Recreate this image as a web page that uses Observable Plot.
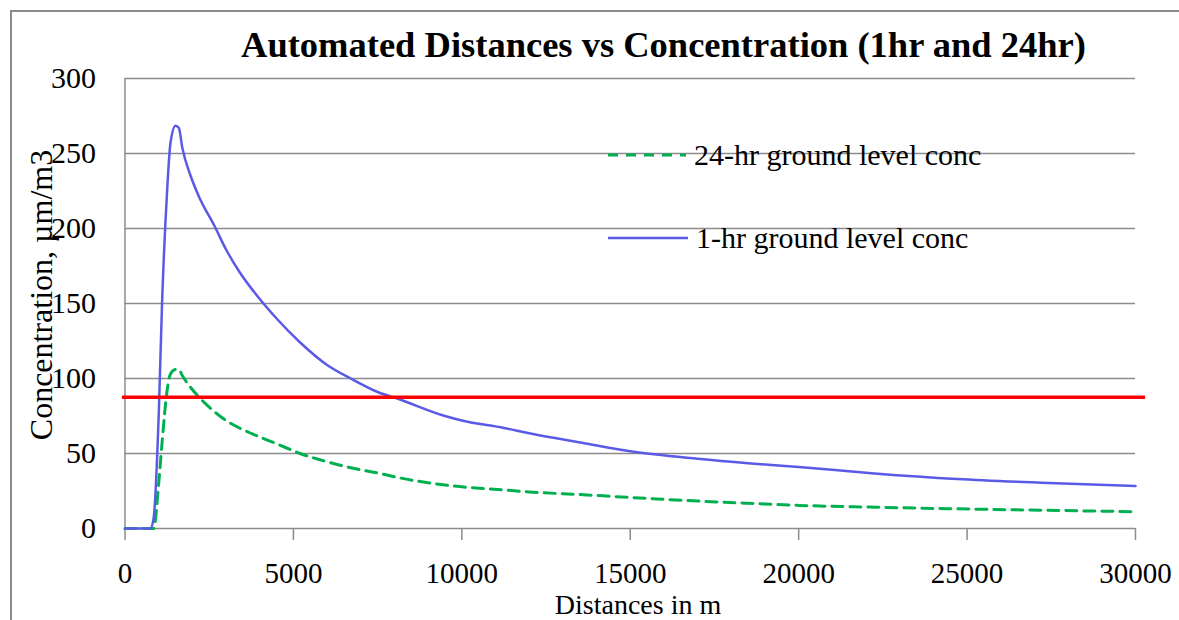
<!DOCTYPE html>
<html>
<head>
<meta charset="utf-8">
<script src="https://cdn.jsdelivr.net/npm/d3@7"></script>
<script src="https://cdn.jsdelivr.net/npm/@observablehq/plot@0.6"></script>
<style>
  html, body { margin: 0; padding: 0; background: #fff; }
  #wrap { position: relative; width: 1179px; height: 620px; overflow: hidden; background: #fff;
          font-family: "Liberation Serif", "Times New Roman", serif; color: #000; }
  #frame { position: absolute; left: 10px; top: 10px; width: 1200px; height: 700px;
           border-left: 2px solid #8c8c8c; border-top: 2px solid #8c8c8c; box-sizing: border-box; }
  #title { position: absolute; left: 0; width: 1327px; top: 26.7px; text-align: center;
           font-size: 36.5px; font-weight: bold; line-height: 1; white-space: nowrap; }
  #ylabel { position: absolute; left: -159px; top: 279px; width: 400px; text-align: center;
            font-size: 32px; line-height: 1; transform: rotate(-90deg); white-space: nowrap; }
  #xlabel { position: absolute; left: 438px; width: 400px; top: 590.75px; text-align: center;
            font-size: 28px; line-height: 1; white-space: nowrap; }
  .leg { position: absolute; left: 608px; font-size: 30px; line-height: 1; white-space: nowrap;
         display: flex; align-items: center; }
  .leg svg { display: block; margin-right: 8px; }
  #chart svg { position: absolute; left: 0; top: 0; }
</style>
</head>
<body>
<div id="wrap">
  <div id="chart"></div>
  <div id="frame"></div>
  <div id="title"></div>
  <div id="ylabel"></div>
  <div id="xlabel"></div>
  <div id="leg24" class="leg" style="top:140px"></div>
  <div id="leg1" class="leg" style="top:223px"></div>
</div>
<script>
// ---- data ----
const title = "Automated Distances vs Concentration (1hr and 24hr)";
const xLabel = "Distances in m";
const yLabel = "Concentration, µm/m3";
const seriesNames = ["24-hr ground level conc", "1-hr ground level conc"];
const distances = [0, 750, 850, 1000, 1100, 1250, 1350, 1500, 1600, 1700, 1950, 2200, 2650, 3000, 3400, 4000, 4500, 5200, 6000, 6700, 7500, 8100, 9500, 10000, 11250, 12000, 13600, 15000, 17000, 18500, 20000, 22250, 24700, 27200, 30000];
const conc1hr  = [0, 0, 7, 75, 150, 225, 257, 268.5, 267, 254, 235, 221, 202, 186, 171, 153, 140, 124, 109, 100, 91, 86.5, 75, 72, 67, 63.5, 57, 51.5, 46.5, 43.5, 41, 36.7, 33, 30.5, 28.3];
const conc24hr = [0, 0, 0, 30, 57, 92, 103, 106, 106, 102, 94, 87.5, 78, 72, 67, 61, 56.5, 50, 44.5, 40.5, 37, 34, 29, 27.8, 25.7, 24.4, 22.5, 20.7, 18.3, 16.8, 15.4, 14.2, 13.1, 12.2, 11.2];
const threshold = 87.5;
const thresholdSpan = [-75, 30300];
const xTicks = [0, 5000, 10000, 15000, 20000, 25000, 30000];
const yTicks = [0, 50, 100, 150, 200, 250, 300];

const colors = { h1: "#5a5ae6", h24: "#00b050", thr: "#ff0000", grid: "#8c8c8c" };

const rows1 = distances.map((d, i) => ({ d, c: conc1hr[i] }));
const rows24 = distances.map((d, i) => ({ d, c: conc24hr[i] }));

const plot = Plot.plot({
  width: 1179,
  height: 620,
  marginLeft: 124.5,
  marginRight: 44,
  marginTop: 78,
  marginBottom: 92,
  style: { fontFamily: '"Liberation Serif", "Times New Roman", serif', fontSize: "30px", background: "transparent", color: "#000" },
  x: { domain: [0, 30000] },
  y: { domain: [0, 300] },
  marks: [
    Plot.ruleY(yTicks, { stroke: colors.grid, strokeWidth: 1.5 }),
    Plot.ruleX([0], { y1: 0, y2: 300, stroke: colors.grid, strokeWidth: 1.5 }),
    Plot.axisY({ ticks: yTicks, tickSize: 0, tickPadding: 29, tickFormat: d => String(d), label: null, fill: "#000" }),
    Plot.axisX({ ticks: xTicks, tickSize: 12, tickPadding: 22.4, fontSize: 29, tickFormat: d => String(d), label: null, stroke: colors.grid, strokeWidth: 1.5, fill: "#000" }),
    Plot.line(rows24, { x: "d", y: "c", stroke: colors.h24, strokeWidth: 3, strokeDasharray: "11,7", curve: "monotone-x" }),
    Plot.line(rows1, { x: "d", y: "c", stroke: colors.h1, strokeWidth: 2.5, curve: "monotone-x" }),
    Plot.ruleY([threshold], { x1: thresholdSpan[0], x2: thresholdSpan[1], stroke: colors.thr, strokeWidth: 3.5 })
  ]
});
document.getElementById("chart").appendChild(plot);

document.getElementById("title").textContent = title;
document.getElementById("ylabel").textContent = yLabel;
document.getElementById("xlabel").textContent = xLabel;

function legendItem(id, name, color, dash, len) {
  const el = document.getElementById(id);
  const ns = "http://www.w3.org/2000/svg";
  const s = document.createElementNS(ns, "svg");
  s.setAttribute("width", len); s.setAttribute("height", 10);
  const l = document.createElementNS(ns, "line");
  l.setAttribute("x1", 0); l.setAttribute("x2", len); l.setAttribute("y1", 5); l.setAttribute("y2", 5);
  l.setAttribute("stroke", color); l.setAttribute("stroke-width", dash ? 3 : 2.5);
  if (dash) l.setAttribute("stroke-dasharray", dash);
  s.appendChild(l);
  el.appendChild(s);
  const t = document.createElement("span");
  t.textContent = name;
  el.appendChild(t);
}
legendItem("leg24", seriesNames[0], colors.h24, "10,8", 78);
legendItem("leg1", seriesNames[1], colors.h1, null, 80);
</script>
</body>
</html>
